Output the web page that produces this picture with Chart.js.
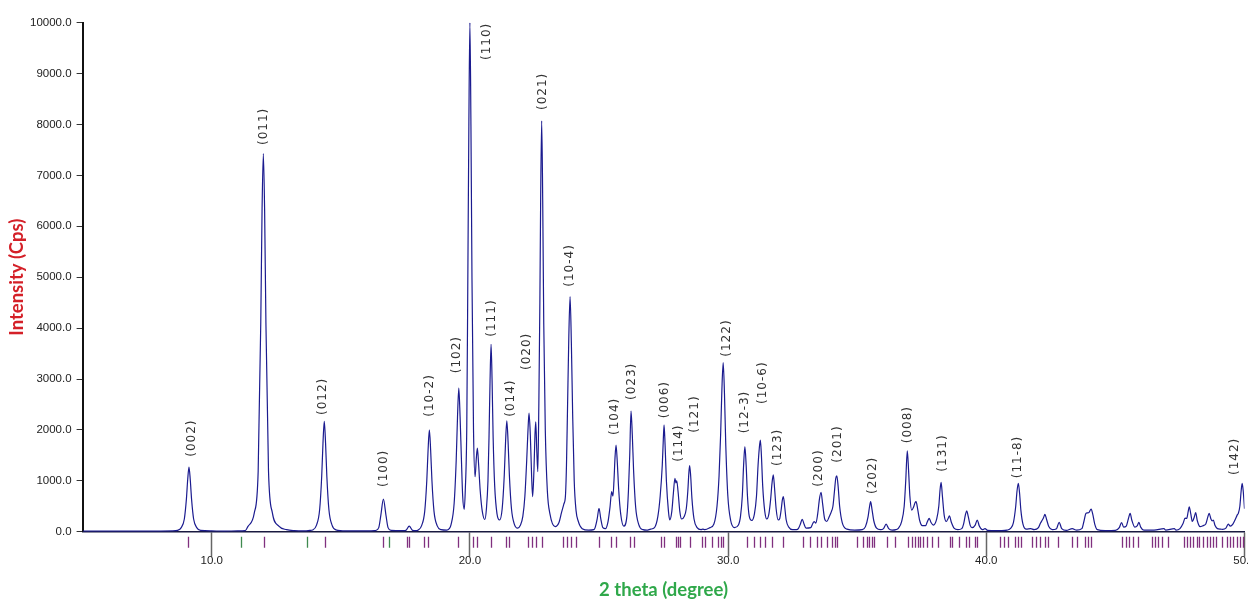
<!DOCTYPE html>
<html>
<head>
<meta charset="utf-8">
<script src="https://cdn.jsdelivr.net/npm/chart.js@4.4.1/dist/chart.umd.min.js"></script>
<style>
  html, body { margin: 0; padding: 0; background: #ffffff; }
  #wrap { width: 1248px; height: 599px; position: relative; }
</style>
</head>
<body>
<div id="wrap"><canvas id="c"></canvas></div>
<script>
// ---- Diffraction profile (2θ in degrees, intensity in counts/s) ----
const twoTheta = [
  5.0, 8.0, 8.6, 8.67, 8.82, 8.94, 9.02, 9.07, 9.12, 9.17, 9.22, 9.30, 9.42, 9.57, 10.0, 10.5, 11.0, 11.3,
  11.4, 11.65, 11.8, 11.9, 11.95, 12.0, 12.05, 12.1, 12.2, 12.35, 12.6, 12.9, 13.2, 13.6, 13.8,
  13.91, 14.06, 14.18, 14.26, 14.31, 14.36, 14.41, 14.46, 14.54, 14.66, 14.81, 15.2, 16.0, 16.3,
  16.35, 16.47, 16.55, 16.65, 16.75, 16.83, 16.95, 17.4, 17.52, 17.65, 17.78, 17.9, 18.0,
  18.13, 18.25, 18.33, 18.38, 18.43, 18.48, 18.53, 18.61, 18.73, 18.88, 19.1, 19.2,
  19.27, 19.39, 19.47, 19.52, 19.57, 19.62, 19.67, 19.72, 19.78, 19.82, 19.88, 19.92, 19.96, 20.0, 20.04, 20.08, 20.14, 20.2, 20.25, 20.29, 20.34, 20.4, 20.48, 20.58, 20.64, 20.7, 20.74, 20.78, 20.82, 20.86, 20.9, 20.96, 21.05, 21.15,
  21.25, 21.33, 21.38, 21.43, 21.48, 21.53, 21.61, 21.72, 21.85,
  21.95, 22.05, 22.13, 22.2, 22.25, 22.29, 22.34, 22.39, 22.43, 22.48, 22.52, 22.55, 22.59, 22.63, 22.67, 22.71, 22.74, 22.78, 22.82, 22.86, 22.92, 23.0, 23.1, 23.3,
  23.45, 23.55, 23.64, 23.7, 23.74, 23.78, 23.83, 23.88, 23.93, 23.98, 24.04, 24.11, 24.2, 24.35, 24.6, 24.8,
  24.85, 24.93, 25.0, 25.07, 25.15, 25.25, 25.35, 25.43, 25.49, 25.54, 25.58, 25.62, 25.66, 25.71, 25.76, 25.84, 25.96, 26.08, 26.14, 26.19, 26.24, 26.29, 26.34, 26.42, 26.54, 26.7, 26.85, 27.0,
  27.15, 27.28, 27.37, 27.45, 27.49, 27.52, 27.56, 27.61, 27.69, 27.74, 27.82, 27.88, 27.94, 27.98, 28.01, 28.06, 28.13, 28.2, 28.3, 28.38, 28.44, 28.48, 28.51, 28.55, 28.6, 28.68, 28.8, 28.95, 29.02, 29.1, 29.3,
  29.45, 29.57, 29.65, 29.71, 29.76, 29.81, 29.86, 29.91, 29.99, 30.1, 30.25, 30.4, 30.48, 30.55, 30.6, 30.65, 30.7, 30.75, 30.82, 30.92, 31.02, 31.1, 31.16, 31.21, 31.25, 31.29, 31.34, 31.42, 31.5,
  31.58, 31.65, 31.7, 31.75, 31.8, 31.86, 31.94, 32.0, 32.06, 32.1, 32.14, 32.19, 32.25, 32.35, 32.5, 32.65, 32.72, 32.8, 32.87, 32.94, 33.02, 33.2, 33.28, 33.33, 33.4, 33.47, 33.54, 33.6, 33.66, 33.74, 33.82, 33.92, 34.0, 34.06, 34.12, 34.17, 34.21, 34.26, 34.32, 34.42, 34.6, 34.9, 35.2,
  35.32, 35.42, 35.48, 35.52, 35.57, 35.64, 35.75, 35.9, 36.02, 36.12, 36.22, 36.35, 36.5, 36.6, 36.72, 36.82, 36.88, 36.94, 36.99, 37.04, 37.11, 37.18, 37.24, 37.28, 37.34, 37.42, 37.52, 37.65, 37.72, 37.79, 37.86, 37.95, 38.08, 38.16, 38.21, 38.25, 38.3, 38.37, 38.45, 38.52, 38.57, 38.65, 38.75, 38.9, 39.05,
  39.12, 39.19, 39.24, 39.3, 39.38, 39.45, 39.57, 39.65, 39.73, 39.85, 39.95, 40.05, 40.4, 40.6, 40.8, 40.95, 41.05, 41.14, 41.19, 41.24, 41.29, 41.34, 41.42, 41.55, 41.72, 41.85, 42.02, 42.1, 42.17, 42.22, 42.27, 42.33, 42.42, 42.55, 42.72, 42.82, 42.92, 43.1, 43.33, 43.5, 43.7,
  43.78, 43.86, 43.92, 43.98, 44.06, 44.12, 44.2, 44.3, 44.6, 45.0, 45.15, 45.24, 45.32, 45.42, 45.5, 45.57, 45.64, 45.75, 45.85, 45.91, 45.98, 46.1, 46.5, 46.88, 46.95, 47.28, 47.35, 47.5, 47.62, 47.7, 47.76, 47.82, 47.86, 47.92, 47.98, 48.05, 48.11, 48.17, 48.28, 48.4, 48.5, 48.58, 48.63, 48.7, 48.75, 48.79, 48.86, 48.95, 49.08, 49.15, 49.28, 49.37, 49.45, 49.55, 49.65, 49.72, 49.76, 49.82, 49.87, 49.91, 49.95, 50.0
];
const intensity = [
  10, 12, 20, 25, 80, 250, 640, 1020, 1270, 1020, 640, 250, 80, 25, 15, 12, 15, 20,
  100, 370, 1190, 4090, 6300, 7430, 6300, 4090, 1190, 370, 110, 40, 20, 15, 25,
  35, 130, 430, 1085, 1740, 2170, 1740, 1085, 430, 130, 35, 15, 15, 20,
  25, 80, 320, 640, 320, 80, 25, 20, 25, 110, 25, 20, 35,
  120, 400, 1000, 1600, 2000, 1600, 1000, 400, 120, 40, 30, 60,
  140, 560, 1410, 2250, 2820, 2260, 1450, 700, 440, 800, 2100, 5000, 8000, 10000, 8000, 5000, 2000, 1080, 1450, 1640, 1300, 800, 400, 240, 450, 1000, 1850, 2950, 3680, 2950, 1850, 900, 350, 230,
  450, 1100, 1750, 2180, 1750, 1100, 450, 150, 70,
  120, 300, 700, 1400, 2000, 2330, 1900, 1100, 690, 1200, 1900, 2160, 1600, 1180, 2500, 4500, 6500, 8070, 6500, 4100, 2000, 800, 350, 100,
  180, 380, 545, 700, 1300, 2400, 3800, 4620, 3700, 2300, 1000, 420, 200, 60, 30, 40,
  80, 250, 460, 250, 80, 60, 200, 500, 790, 700, 1000, 1450, 1700, 1350, 850, 350, 110, 300, 800, 1500, 2370, 1900, 1200, 480, 140, 40, 30, 50,
  80, 300, 700, 1300, 1800, 2100, 1700, 1000, 400, 230, 400, 750, 1050, 960, 1000, 800, 400, 250, 300, 450, 800, 1150, 1300, 1100, 650, 250, 80, 40, 50, 40, 80,
  150, 500, 1100, 1900, 2800, 3320, 2700, 1700, 700, 220, 80, 130, 300, 700, 1300, 1670, 1300, 700, 300, 220, 350, 700, 1300, 1650, 1800, 1500, 900, 400, 250,
  350, 650, 950, 1115, 850, 450, 230, 260, 450, 620, 690, 500, 230, 90, 40, 40, 60, 150, 245, 150, 70, 80, 160, 200, 170, 350, 650, 775, 550, 250, 200, 300, 395, 500, 800, 1050, 1095, 900, 500, 180, 50, 30, 40,
  100, 290, 500, 590, 450, 220, 70, 40, 60, 150, 60, 30, 40, 70, 200, 500, 1000, 1590, 1200, 700, 425, 480, 570, 590, 450, 220, 120, 120, 200, 260, 180, 130, 250, 500, 830, 970, 700, 320, 200, 260, 310, 180, 70, 40, 60,
  150, 330, 410, 300, 120, 80, 130, 230, 110, 40, 60, 25, 20, 20, 30, 70, 180, 500, 800, 950, 750, 420, 150, 50, 60, 40, 80, 170, 230, 280, 340, 250, 100, 40, 60, 185, 60, 25, 60, 30, 60,
  200, 360, 370, 380, 445, 350, 150, 40, 20, 25, 80, 180, 90, 110, 250, 360, 220, 90, 120, 185, 90, 30, 30, 60, 30, 60, 30, 60, 160, 265, 260, 400, 490, 350, 200, 280, 375, 220, 100, 120, 150, 290, 360, 250, 210, 230, 120, 60, 50, 45, 70, 150, 110, 150, 250, 330, 360, 500, 800, 950, 800, 450
];

// ---- Reference reflection positions (2θ) for the two phases ----
const reflectionsPhaseA = [
  9.09, 12.04, 14.39, 16.65, 17.55, 17.65, 18.23, 18.39, 19.55, 20.13, 20.29, 20.82, 21.40, 21.53,
  22.26, 22.39, 22.56, 22.80, 23.62, 23.75, 23.92, 24.10, 25.01, 25.47, 25.66, 26.20, 26.37, 27.40,
  27.53, 27.97, 28.05, 28.14, 28.52, 28.98, 29.11, 29.39, 29.62, 29.73, 29.81, 30.72, 31.01, 31.24,
  31.43, 31.69, 32.14, 32.89, 33.17, 33.43, 33.59, 33.84, 34.04, 34.14, 34.23, 34.98, 35.24, 35.37,
  35.47, 35.56, 35.65, 36.14, 36.46, 36.98, 37.11, 37.24, 37.34, 37.43, 37.54, 37.69, 37.89, 38.12,
  38.59, 38.68, 38.95, 39.20, 39.34, 39.56, 39.65, 40.53, 40.70, 40.85, 41.11, 41.24, 41.33, 41.76,
  41.92, 42.08, 42.27, 42.40, 42.77, 43.33, 43.50, 43.82, 43.93, 44.06, 45.27, 45.40, 45.53, 45.69,
  45.86, 46.41, 46.53, 46.66, 46.82, 47.03, 47.67, 47.78, 47.89, 48.02, 48.15, 48.25, 48.40, 48.54,
  48.66, 48.77, 48.90, 49.12, 49.31, 49.44, 49.57, 49.70, 49.83, 49.95
];
const reflectionsPhaseB = [11.13, 13.68, 16.88];

// ---- Peak (hkl) annotations: text, 2θ and intensity at the label's base ----
const peakLabels = ['(002)','(011)','(012)','(100)','(10-2)','(102)','(110)','(111)','(014)','(020)','(021)','(10-4)','(104)','(023)','(006)','(114)','(121)','(122)','(12-3)','(10-6)','(123)','(200)','(201)','(202)','(008)','(131)','(11-8)','(142)'];
const peakLabelTheta = [9.23, 12.04, 14.32, 16.66, 18.45, 19.51, 20.65, 20.86, 21.58, 22.20, 22.82, 23.88, 25.62, 26.29, 27.56, 28.10, 28.72, 29.95, 30.65, 31.34, 31.92, 33.53, 34.27, 35.62, 36.98, 38.33, 41.24, 49.63];
const peakLabelIntensity = [1473, 7597, 2293, 878, 2259, 3112, 9267, 3831, 2259, 3177, 8285, 4813, 1900, 2587, 2228, 1375, 1945, 3438, 1933, 2509, 1291, 884, 1356, 741, 1737, 1179, 1049, 1114];

// ---- Axis ticks ----
const xTickStep = 10;
const yTickStep = 1000;

const points = twoTheta.map((t, i) => ({ x: t, y: intensity[i] }));

const annotate = {
  id: 'annotate',
  afterDatasetsDraw(chart) {
    const { ctx, chartArea } = chart;
    const xs = chart.scales.x, ys = chart.scales.y;
    ctx.save();
    const top = chartArea.bottom + 5, bot = chartArea.bottom + 16;
    const drawRefl = (arr, color) => {
      ctx.strokeStyle = color;
      ctx.lineWidth = 1.3;
      ctx.beginPath();
      arr.forEach(v => {
        const px = Math.round(xs.getPixelForValue(v)) + 0.5;
        ctx.moveTo(px, top); ctx.lineTo(px, bot);
      });
      ctx.stroke();
    };
    drawRefl(reflectionsPhaseA, '#80307f');
    drawRefl(reflectionsPhaseB, '#3f8a4f');

    ctx.font = '12px "DejaVu Sans"';
    ctx.fillStyle = '#333333';
    if ('letterSpacing' in ctx) ctx.letterSpacing = '1px';
    ctx.textAlign = 'left';
    ctx.textBaseline = 'middle';
    peakLabels.forEach((t, i) => {
      const px = xs.getPixelForValue(peakLabelTheta[i]);
      const py = ys.getPixelForValue(peakLabelIntensity[i]);
      ctx.save();
      ctx.translate(px, py);
      ctx.rotate(-Math.PI / 2);
      ctx.fillText(t, 0, 0);
      ctx.restore();
    });
    ctx.restore();
  }
};

const tickFont = { family: '"Liberation Sans", Arial, sans-serif', size: 11.5 };

new Chart(document.getElementById('c'), {
  type: 'line',
  data: {
    datasets: [{
      data: points,
      borderColor: '#1b1b8f',
      borderWidth: 1.2,
      pointRadius: 0,
      fill: false,
      cubicInterpolationMode: 'monotone'
    }]
  },
  options: {
    responsive: true,
    maintainAspectRatio: false,
    animation: false,
    devicePixelRatio: 1,
    layout: { padding: { top: 22.7, right: 3.5, left: 0, bottom: 0 } },
    plugins: { legend: { display: false }, tooltip: { enabled: false } },
    scales: {
      x: {
        type: 'linear',
        min: 5, max: 50,
        ticks: {
          stepSize: xTickStep, includeBounds: false, autoSkip: false, maxRotation: 0,
          callback: v => Number(v).toFixed(1),
          font: tickFont, color: '#222', padding: -3
        },
        grid: { drawOnChartArea: false, tickLength: 25, tickColor: '#666', tickWidth: 1.5 },
        border: { color: '#1a1a40', width: 1.5 },
        title: {
          display: true, text: '2 theta (degree)', color: '#2fa84a',
          font: { family: 'Lato, "Open Sans", sans-serif', size: 18.5, weight: 'bold', lineHeight: 1 },
          padding: { top: 0, bottom: 0 }
        },
        afterFit(s) { s.height = 67.3; s.paddingLeft = 0; s.paddingRight = 0; }
      },
      y: {
        min: 0, max: 10000,
        ticks: {
          stepSize: yTickStep,
          callback: v => Number(v).toFixed(1),
          font: tickFont, color: '#222', padding: 5
        },
        grid: { drawOnChartArea: false, tickLength: 6, tickColor: '#333', tickWidth: 1 },
        border: { color: '#111', width: 2 },
        title: {
          display: true, text: 'Intensity (Cps)', color: '#d42028',
          font: { family: 'Lato, "Open Sans", sans-serif', size: 18.5, weight: 'bold', lineHeight: 1 },
          padding: { top: 8, bottom: 0 }
        },
        afterFit(s) { s.width = 82.6; s.paddingTop = 0; s.paddingBottom = 0; }
      }
    }
  },
  plugins: [annotate]
});
</script>
</body>
</html>
